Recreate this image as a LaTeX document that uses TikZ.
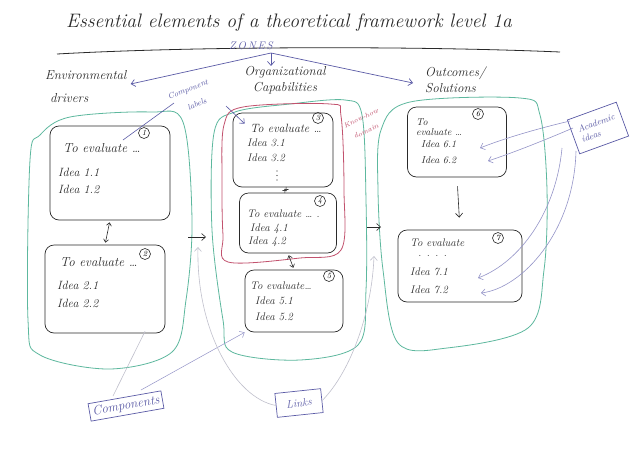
\documentclass[tikz,border=0pt]{standalone}
\usepackage{fontspec}
\usetikzlibrary{arrows.meta,calc}
\definecolor{ink}{HTML}{2A2A2A}
\definecolor{zonegreen}{HTML}{5DB89E}
\definecolor{kred}{HTML}{C2526E}
\definecolor{purp}{HTML}{5B5BA6}
\definecolor{lightp}{HTML}{9494C8}
\definecolor{faint}{HTML}{C0C0CC}
\begin{document}
\begin{tikzpicture}[x=1pt,y=-1pt,
  hand/.style={font=\fontsize{11}{12}\selectfont\itshape, inner sep=0pt, anchor=west, text=ink},
  big/.style={font=\fontsize{13}{14}\selectfont\itshape},
  mid/.style={font=\fontsize{12}{13}\selectfont\itshape},
  sml/.style={font=\fontsize{10}{11}\selectfont\itshape},
  lab/.style={font=\fontsize{13}{16}\selectfont\itshape, inner sep=0pt, text=ink},
  ideabox/.style={draw=ink, line width=0.7pt, rounded corners=9pt, inner sep=0pt},
  num/.style={circle, draw=ink, line width=0.6pt, inner sep=0.6pt, minimum size=11pt, font=\fontsize{8}{8}\selectfont\itshape},
  zone/.style={draw=zonegreen, line width=0.8pt},
  barb/.style={-{Straight Barb[length=4pt,width=7pt]}},
  dbarb/.style={{Straight Barb[length=3pt,width=5pt]}-{Straight Barb[length=3pt,width=5pt]}, line width=0.6pt, ink},
  tagbox/.style={draw=purp, line width=0.7pt, text=purp, font=\fontsize{11}{12}\selectfont\itshape, inner sep=3pt},
  tag/.style={text=purp, inner sep=0pt, font=\fontsize{8}{8.5}\selectfont\itshape}
]
\useasboundingbox (0,0) rectangle (640,448);
\fill[white] (0,0) rectangle (640,448);

% title
\node[font=\fontsize{19.5}{22}\selectfont\itshape, text=ink] (title) at (289,23) {Essential elements of a theoretical framework level 1a};
\draw[ink, line width=0.8pt] (57,54) .. controls (200,46) and (420,46) .. (560,52);

% zones label and header labels
\node[font=\fontsize{11}{12}\selectfont\itshape, text=purp] (zones) at (251,46) {Z\,O\,N\,E\,S};
\coordinate (zs) at (271,53);
\node[lab, anchor=west] (env1) at (45,75) {Environmental};
\node[lab, anchor=west] (env2) at (50,98) {drivers};
\node[lab, align=center] (org) at (285,80) {Organizational\\Capabilities};
\node[lab, align=left, anchor=west] (out) at (425,80) {Outcomes/\\Solutions};
\draw[purp, line width=0.7pt, barb] (zs) -- ([shift={(4pt,-9pt)}]env1.east);
\draw[purp, line width=0.7pt, barb] (zs) -- (zs |- org.north);
\draw[purp, line width=0.7pt, barb] (zs) -- ([xshift=-12pt,yshift=-3pt]out.west);

% zones
\draw[zone] plot[smooth cycle, tension=0.55] coordinates {(40,135) (70,117) (150,112) (183,122) (192,220) (186,300) (172,352) (110,369) (40,355) (28,320) (30,160)};
\draw[zone] plot[smooth cycle, tension=0.55] coordinates {(214,133) (235,112) (290,104) (345,100) (362,115) (366,200) (366,290) (358,345) (300,360) (232,352) (223,320) (212,230)};
\draw[zone] plot[smooth cycle, tension=0.55] coordinates {(381,130) (410,102) (520,98) (540,115) (547,190) (544,270) (528,328) (447,348) (398,343) (383,270) (378,190)};
\draw[kred, line width=0.8pt] plot[smooth cycle, tension=0.55] coordinates {(224,125) (243,107) (330,104) (341,116) (344,190) (341,250) (300,258) (228,262) (223,235) (222,180)};
\node[text=kred, rotate=25, inner sep=0pt, font=\fontsize{7}{8}\selectfont\itshape] (kd1) at (361,118) {Know-how};
\node[text=kred, rotate=25, inner sep=0pt, font=\fontsize{7}{8}\selectfont\itshape] (kd2) at (366,131) {domain};

% idea boxes
\node[ideabox, minimum width=120pt, minimum height=94pt] (b1) at (110,173) {};
\node[ideabox, minimum width=120pt, minimum height=88pt] (b2) at (105,289) {};
\node[ideabox, minimum width=100pt, minimum height=74pt] (b3) at (283,150) {};
\node[ideabox, minimum width=97pt, minimum height=60pt] (b4) at (288,223) {};
\node[ideabox, minimum width=98pt, minimum height=62pt] (b5) at (294,301) {};
\node[ideabox, minimum width=99pt, minimum height=70pt] (b6) at (457,142) {};
\node[ideabox, minimum width=124pt, minimum height=72pt] (b7) at (460,266) {};

% numbers
\node[num] (n1) at (144,133) {1};
\node[num] (n2) at (145,254) {2};
\node[num] (n3) at (318,118) {3};
\node[num] (n4) at (320,201) {4};
\node[num] (n5) at (329,276) {5};
\node[num] (n6) at (478,114) {6};
\node[num] (n7) at (498,238) {7};

% box texts
\node[hand, big] (t1) at (63,148) {To evaluate \dots};
\node[hand, mid] (i11) at (58,172) {Idea 1.1};
\node[hand, mid] (i12) at (58,189) {Idea 1.2};
\node[hand, big] (t2) at (60,262) {To evaluate \dots};
\node[hand, mid] (i21) at (57,285) {Idea 2.1};
\node[hand, mid] (i22) at (57,303) {Idea 2.2};
\node[hand, mid] (t3) at (250,128) {To evaluate \dots};
\node[hand] (i31) at (247,143) {Idea 3.1};
\node[hand] (i32) at (247,158) {Idea 3.2};
\foreach \yy in {171,175.5,180} \fill[ink] (277,\yy) circle (0.6pt);
\node[hand] (t4) at (247,214) {To evaluate \dots\ .};
\node[hand] (i41) at (250,229) {Idea 4.1};
\node[hand] (i42) at (248,242) {Idea 4.2};
\node[hand] (t5) at (250,286) {To evaluate\dots};
\node[hand] (i51) at (255,301) {Idea 5.1};
\node[hand] (i52) at (255,317) {Idea 5.2};
\node[hand, sml] (t6a) at (416,122) {To};
\node[hand, sml] (t6b) at (416,132) {evaluate \dots};
\node[hand, sml] (i61) at (421,144) {Idea 6.1};
\node[hand, sml] (i62) at (421,160) {Idea 6.2};
\node[hand] (t7) at (410,243) {To evaluate};
\node[hand] (d7) at (418,256) {. . . .};
\node[hand] (i71) at (410,272) {Idea 7.1};
\node[hand] (i72) at (410,290) {Idea 7.2};

% links between boxes
\draw[dbarb, shorten <=2pt, shorten >=2pt] (b1.south) -- (b2.north);
\draw[dbarb, shorten <=2pt, shorten >=2pt] (b3.south) -- (b4.north);
\draw[dbarb, shorten <=2pt, shorten >=2pt] (b4.south) -- (b5.north);
\draw[ink, line width=0.6pt, barb, shorten <=9pt, shorten >=12pt] (b6.south) -- (b7.north);

% arrows between zones
\coordinate (lz) at (188,237);
\coordinate (mzin) at (206,237);
\coordinate (mz) at (367,227);
\coordinate (rzin) at (381,227);
\draw[ink, line width=0.6pt, barb] (lz) -- (mzin);
\draw[ink, line width=0.6pt, barb] (mz) -- (rzin);

% component labels
\node[tag, rotate=22] (cl1) at (188,90) {Component};
\node[tag, rotate=22] (cl2) at (197,104) {labels};
\coordinate (clend) at (123,140);
\draw[purp, line width=0.6pt] (174,103) -- (clend);
\coordinate (b3in) at ($(b3.north west)+(12,11)$);
\draw[purp, line width=0.6pt, barb] (226,106) -- (b3in);

% components and links tags
\node[tagbox, rotate=10, font=\fontsize{13}{14}\selectfont\itshape] (comp) at (126,406) {Components};
\node[tagbox, rotate=6, minimum width=46pt, minimum height=24pt] (lk) at (299,403) {Links};
\coordinate (b2end) at ($(b2.south)+(40,-2)$);
\draw[faint, line width=0.6pt] (113,396) -- (b2end);
\draw[lightp, line width=0.5pt, barb] (141,390) -- (b5.south west);
\coordinate (lkl) at (198,247);
\coordinate (lkr) at (374,256);
\draw[faint, line width=0.6pt, barb] (lk.west) .. controls (235,398) and (196,330) .. (lkl);
\draw[faint, line width=0.6pt, barb] (lk.east) .. controls (352,370) and (372,310) .. (lkr);

% academic ideas
\node[tagbox, rotate=20, align=left, minimum width=52pt, minimum height=36pt, font=\fontsize{9}{11}\selectfont\itshape] (ac) at (598,128) {Academic\\ideas};
\coordinate (a1) at (480,148);
\coordinate (a2) at (488,161);
\coordinate (a3) at (478,278);
\coordinate (a4) at (481,293);
\draw[lightp, line width=0.6pt, barb] (570,121) .. controls (540,128) and (505,138) .. (a1);
\draw[lightp, line width=0.6pt, barb] (573,128) .. controls (545,140) and (515,152) .. (a2);
\draw[lightp, line width=0.6pt, barb] (562,148) .. controls (556,212) and (520,262) .. (a3);
\draw[lightp, line width=0.6pt, barb] (576,151) .. controls (574,232) and (522,288) .. (a4);
\end{tikzpicture}
\end{document}
